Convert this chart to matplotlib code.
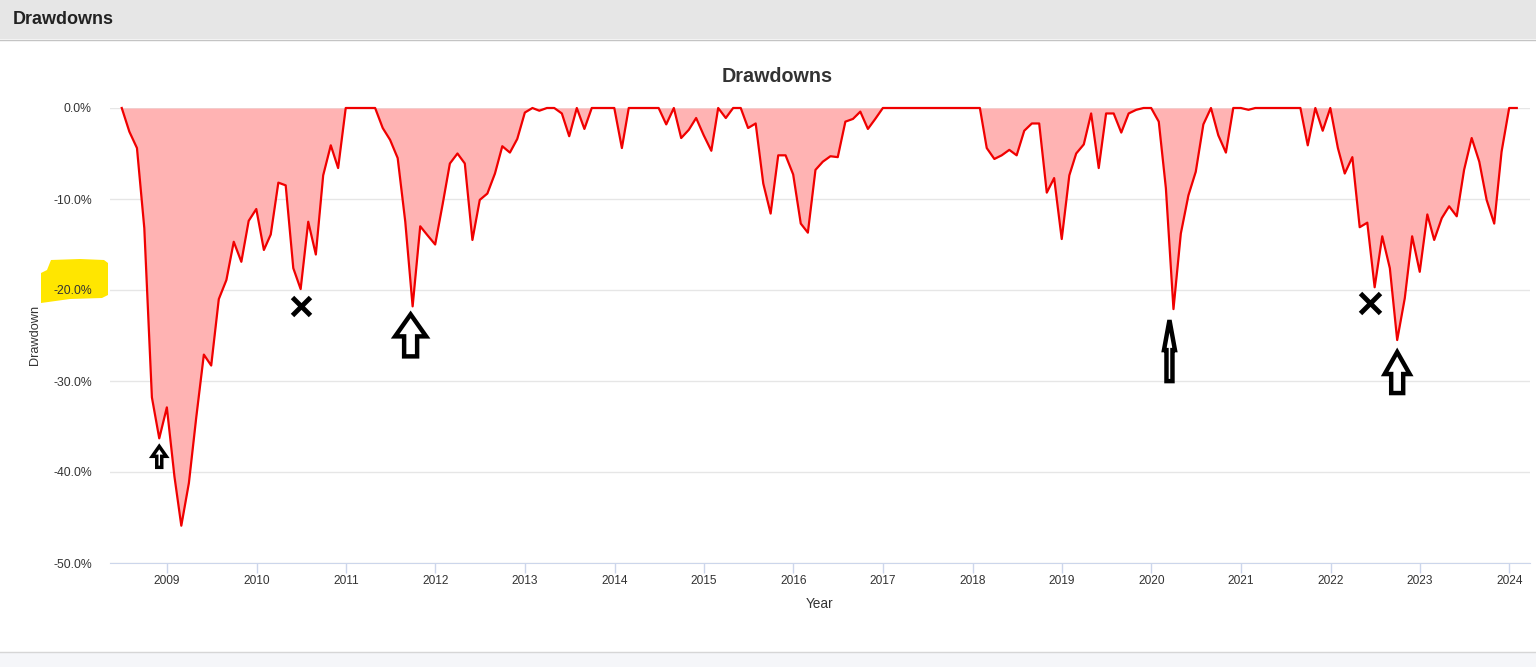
import numpy as np
import pandas as pd
import matplotlib
matplotlib.use('Agg')
import matplotlib.pyplot as plt
import matplotlib.dates as mdates
import matplotlib.transforms as transforms
from matplotlib.patches import Polygon, Rectangle
from datetime import datetime

plt.rcParams['font.family'] = ['Liberation Sans', 'DejaVu Sans']

# month-end drawdowns in %, from 2008-06 to 2024-01
dd_2008 = [0, -2.6, -4.4, -13.2, -31.8, -36.3, -32.9]
dd_2009 = [-40.5, -45.9, -41.2, -34.0, -27.1, -28.3, -21.0, -18.9, -14.7, -16.9, -12.4, -11.1]
dd_2010 = [-15.6, -13.9, -8.2, -8.5, -17.6, -19.9, -12.5, -16.1, -7.4, -4.1, -6.6, 0]
dd_2011 = [0, 0, 0, 0, -2.2, -3.5, -5.5, -12.5, -21.8, -13.0, -14.0, -15.0]
dd_2012 = [-10.5, -6.1, -5.0, -6.1, -14.5, -10.1, -9.4, -7.2, -4.2, -4.9, -3.4, -0.5]
dd_2013 = [0, -0.3, 0, 0, -0.6, -3.1, 0, -2.3, 0, 0, 0, 0]
dd_2014 = [-4.4, 0, 0, 0, 0, 0, -1.8, 0, -3.3, -2.4, -1.1, -3.0]
dd_2015 = [-4.7, 0, -1.1, 0, 0, -2.2, -1.7, -8.3, -11.6, -5.2, -5.2, -7.3]
dd_2016 = [-12.7, -13.7, -6.8, -5.9, -5.3, -5.4, -1.5, -1.2, -0.4, -2.3, -1.2, 0]
dd_2017 = [0, 0, 0, 0, 0, 0, 0, 0, 0, 0, 0, 0]
dd_2018 = [0, -4.4, -5.6, -5.2, -4.6, -5.2, -2.5, -1.7, -1.7, -9.3, -7.7, -14.4]
dd_2019 = [-7.4, -5.0, -4.0, -0.6, -6.6, -0.6, -0.6, -2.7, -0.6, -0.2, 0, 0]
dd_2020 = [-1.5, -8.8, -22.1, -13.8, -9.6, -7.0, -1.8, 0, -3.0, -4.9, 0, 0]
dd_2021 = [-0.2, 0, 0, 0, 0, 0, 0, 0, -4.1, 0, -2.5, 0]
dd_2022 = [-4.4, -7.2, -5.4, -13.1, -12.6, -19.7, -14.1, -17.6, -25.5, -20.9, -14.1, -18.0]
dd_2023 = [-11.7, -14.5, -12.1, -10.8, -11.9, -6.8, -3.3, -5.9, -10.1, -12.7, -4.8, 0]
dd_2024 = [0]

drawdown = (dd_2008 + dd_2009 + dd_2010 + dd_2011 + dd_2012 + dd_2013 + dd_2014 + dd_2015
            + dd_2016 + dd_2017 + dd_2018 + dd_2019 + dd_2020 + dd_2021 + dd_2022 + dd_2023 + dd_2024)
dates = pd.date_range('2008-06-30', periods=len(drawdown), freq='ME')

years = list(range(2009, 2025))
y_ticks = [0, -10, -20, -30, -40, -50]
y_labels = ['0.0%', '-10.0%', '-20.0%', '-30.0%', '-40.0%', '-50.0%']

# hand drawn marks: (month, arrow or x)
arrow_months = ['2008-11', '2011-09', '2020-03', '2022-09']
cross_months = ['2010-06', '2022-06']

W, H = 1536, 667
fig = plt.figure(figsize=(W / 100, H / 100), dpi=100)
fig.patch.set_facecolor('white')

# page header and footer bars
fig.add_artist(Rectangle((0, 1 - 39 / H), 1, 39 / H, transform=fig.transFigure, fc='#e6e6e6', ec='none'))
fig.add_artist(plt.Line2D([0, 1], [1 - 39.5 / H] * 2, transform=fig.transFigure, color='#c4c4c4', lw=1))
fig.text(13 / W, 1 - 19 / H, 'Drawdowns', fontsize=13, fontweight='bold', color='#222222', va='center', ha='left')
fig.add_artist(Rectangle((0, 0), 1, 15 / H, transform=fig.transFigure, fc='#f5f6f9', ec='none'))
fig.add_artist(plt.Line2D([0, 1], [15 / H] * 2, transform=fig.transFigure, color='#d6d6d6', lw=1))

ax = fig.add_axes([110 / W, 1 - 563 / H, 1420 / W, 455 / H])
ax.set_facecolor('white')

x = mdates.date2num(dates)
ax.fill_between(x, drawdown, 0, color='#ffb3b3', lw=0, zorder=2)
ax.plot(x, drawdown, color='#f00000', lw=1.6, zorder=3, clip_on=False)

ax.set_ylim(-50, 0)
ax.set_xlim(mdates.date2num(datetime(2008, 5, 13)), mdates.date2num(datetime(2024, 3, 25)))
ax.set_yticks(y_ticks)
ax.set_yticklabels(y_labels)
ax.set_xticks([mdates.date2num(datetime(y, 1, 1)) for y in years])
ax.set_xticklabels([str(y) for y in years])
ax.tick_params(axis='y', length=0, pad=13, labelsize=8.8, labelcolor='#333333')
ax.tick_params(axis='x', length=7, width=1, color='#ccd6eb', pad=2, labelsize=8.6, labelcolor='#333333')
ax.grid(axis='y', color='#e6e6e6', lw=1)
ax.set_axisbelow(True)
for s in ['top', 'right', 'left']:
    ax.spines[s].set_visible(False)
ax.spines['bottom'].set_color('#ccd6eb')
ax.set_xlabel('Year', fontsize=9.8, color='#333333', labelpad=7)
fig.text(35 / W, 1 - 335 / H, 'Drawdown', rotation=90, fontsize=9.2, color='#333333', va='center', ha='center')
fig.text(777 / W, 1 - 77 / H, 'Drawdowns', fontsize=14.2, fontweight='bold', color='#333333', ha='center', va='center')

# yellow highlighter over the -20% label
ht = fig.dpi_scale_trans + transforms.ScaledTranslation(0, -20, transforms.blended_transform_factory(ax.transAxes, ax.transData))
hl = np.array([(-69, 17), (-63, 20), (-59, 30), (-30, 31), (-6, 30), (-2, 27), (-2, -5), (-8, -8), (-40, -9), (-69, -13)]) / 100.0
ax.add_patch(Polygon(hl, closed=True, transform=ht, fc='#ffe600', ec='none', clip_on=False, zorder=0))

s = pd.Series(drawdown, index=dates.strftime('%Y-%m'))

# hollow arrows: gap, total height, head width, head height, shaft width, x shift, line width (pixels)
arrow_dims = [(8, 21, 14, 10, 5, 0, 2.5),
              (8, 42, 31, 22, 13, -2, 3.2),
              (11, 61, 11, 30, 6, -4, 3.2),
              (12, 41, 25, 22, 12, 0, 3.2)]
for m, (gap, th, hw, hh, sw, dx, lw) in zip(arrow_months, arrow_dims):
    xd = mdates.date2num(pd.Timestamp(m) + pd.offsets.MonthEnd(0))
    tr = fig.dpi_scale_trans + transforms.ScaledTranslation(xd, s[m], ax.transData)
    v = np.array([(dx, -gap), (dx + hw / 2, -gap - hh), (dx + sw / 2, -gap - hh), (dx + sw / 2, -gap - th),
                  (dx - sw / 2, -gap - th), (dx - sw / 2, -gap - hh), (dx - hw / 2, -gap - hh)]) / 100.0
    ax.add_patch(Polygon(v, closed=True, transform=tr, fc='white', ec='black', lw=lw, joinstyle='miter',
                         clip_on=False, zorder=5))

cross_dims = [(0, -17, 13), (-5, -16, 15)]
for m, (ox, oy, ms) in zip(cross_months, cross_dims):
    xd = mdates.date2num(pd.Timestamp(m) + pd.offsets.MonthEnd(0))
    tr = transforms.offset_copy(ax.transData, fig=fig, x=ox, y=oy, units='dots')
    ax.plot([xd], [s[m]], marker='x', ms=ms, mew=3.5, color='black', transform=tr, clip_on=False, zorder=5)

fig.savefig('out.png', dpi=100)
